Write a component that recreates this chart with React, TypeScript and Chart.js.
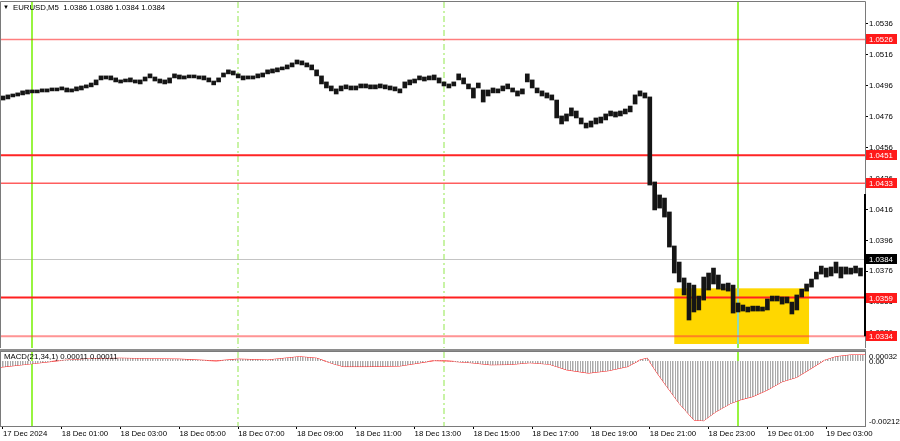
import React, { useEffect, useRef } from 'react';
import { Chart, registerables } from 'chart.js';

Chart.register(...registerables);

const FONT = "'Liberation Sans', Arial, sans-serif";
const FS = 7.8;

const SYMBOL_TITLE = 'EURUSD,M5  1.0386 1.0386 1.0384 1.0384';
const MACD_TITLE = 'MACD(21,34,1) 0.00011 0.00011';

// time: minutes after 17 Dec 2024 23:00 (one sample = 10 minutes = two M5 bars)
const SAMPLE_STEP = 10;
const X_MIN = -4.08;
const X_MAX = 1759.2;

const TIME_TICKS = [0, 120, 240, 360, 480, 600, 720, 840, 960, 1080, 1200, 1320, 1440, 1560, 1680];
const TIME_LABELS = [
  '17 Dec 2024', '18 Dec 01:00', '18 Dec 03:00', '18 Dec 05:00', '18 Dec 07:00',
  '18 Dec 09:00', '18 Dec 11:00', '18 Dec 13:00', '18 Dec 15:00', '18 Dec 17:00',
  '18 Dec 19:00', '18 Dec 21:00', '18 Dec 23:00', '19 Dec 01:00', '19 Dec 03:00',
];

const PRICE_MIN = 1.03264;
const PRICE_MAX = 1.05502;
const PRICE_TICKS = [1.0336, 1.0356, 1.0376, 1.0396, 1.0416, 1.0436, 1.0456, 1.0476, 1.0496, 1.0516, 1.0536];

const HIGH = [
  1.04894, 1.04901, 1.04907, 1.04914, 1.04927, 1.04933, 1.04933, 1.04933, 1.04940, 1.04940,
  1.04946, 1.04946, 1.04953, 1.04946, 1.04940, 1.04953, 1.04959, 1.04966, 1.04978, 1.04998,
  1.05024, 1.05024, 1.05024, 1.05011, 1.04998, 1.05004, 1.05011, 1.04998, 1.04998, 1.05017,
  1.05037, 1.05017, 1.05004, 1.04998, 1.05011, 1.05037, 1.05030, 1.05024, 1.05030, 1.05030,
  1.05024, 1.05024, 1.05011, 1.04991, 1.05011, 1.05043, 1.05063, 1.05056, 1.05037, 1.05024,
  1.05024, 1.05024, 1.05037, 1.05043, 1.05063, 1.05069, 1.05076, 1.05082, 1.05095, 1.05108,
  1.05127, 1.05121, 1.05108, 1.05095, 1.05063, 1.05024, 1.04985, 1.04959, 1.04940, 1.04959,
  1.04966, 1.04959, 1.04959, 1.04972, 1.04972, 1.04966, 1.04966, 1.04972, 1.04966, 1.04959,
  1.04953, 1.04940, 1.04985, 1.04998, 1.05004, 1.05024, 1.05017, 1.05024, 1.05030, 1.05011,
  1.04985, 1.04972, 1.04985, 1.05037, 1.05011, 1.04972, 1.04946, 1.04978, 1.04933, 1.04933,
  1.04946, 1.04940, 1.04959, 1.04972, 1.04946, 1.04927, 1.04940, 1.05037, 1.04998, 1.04946,
  1.04927, 1.04914, 1.04901, 1.04868, 1.04765, 1.04778, 1.04817, 1.04797, 1.04752, 1.04719,
  1.04732, 1.04752, 1.04758, 1.04778, 1.04797, 1.04791, 1.04797, 1.04810, 1.04829, 1.04901,
  1.04927, 1.04914, 1.04888, 1.04338, 1.04254, 1.04234, 1.04144, 1.03924, 1.03820, 1.03717,
  1.03684, 1.03671, 1.03600, 1.03723, 1.03749, 1.03781, 1.03736, 1.03678, 1.03684, 1.03671,
  1.03555, 1.03542, 1.03529, 1.03535, 1.03535, 1.03529, 1.03581, 1.03600, 1.03600, 1.03594,
  1.03594, 1.03561, 1.03607, 1.03645, 1.03678, 1.03710, 1.03755, 1.03794, 1.03781, 1.03788,
  1.03820, 1.03788, 1.03788, 1.03781, 1.03794, 1.03781,
];

const LOW = [
  1.04868, 1.04875, 1.04888, 1.04894, 1.04901, 1.04907, 1.04914, 1.04914, 1.04920, 1.04920,
  1.04927, 1.04927, 1.04933, 1.04920, 1.04920, 1.04927, 1.04933, 1.04946, 1.04953, 1.04966,
  1.04998, 1.05004, 1.04998, 1.04985, 1.04978, 1.04985, 1.04985, 1.04978, 1.04972, 1.04991,
  1.05011, 1.04991, 1.04978, 1.04972, 1.04978, 1.05011, 1.05004, 1.05004, 1.05011, 1.05011,
  1.05004, 1.04998, 1.04985, 1.04966, 1.04985, 1.05017, 1.05037, 1.05030, 1.05011, 1.04998,
  1.05004, 1.05004, 1.05011, 1.05017, 1.05037, 1.05043, 1.05050, 1.05063, 1.05069, 1.05082,
  1.05101, 1.05095, 1.05082, 1.05063, 1.05024, 1.04972, 1.04946, 1.04927, 1.04907, 1.04927,
  1.04940, 1.04933, 1.04933, 1.04946, 1.04946, 1.04940, 1.04940, 1.04946, 1.04940, 1.04933,
  1.04927, 1.04914, 1.04946, 1.04966, 1.04978, 1.04998, 1.04991, 1.04998, 1.04998, 1.04978,
  1.04959, 1.04946, 1.04959, 1.04998, 1.04972, 1.04940, 1.04881, 1.04946, 1.04855, 1.04894,
  1.04914, 1.04914, 1.04927, 1.04940, 1.04920, 1.04894, 1.04907, 1.04985, 1.04946, 1.04914,
  1.04894, 1.04881, 1.04868, 1.04752, 1.04713, 1.04732, 1.04765, 1.04752, 1.04713, 1.04687,
  1.04693, 1.04713, 1.04719, 1.04739, 1.04765, 1.04758, 1.04765, 1.04778, 1.04791, 1.04842,
  1.04894, 1.04881, 1.04318, 1.04157, 1.04169, 1.04111, 1.03917, 1.03749, 1.03691, 1.03607,
  1.03445, 1.03497, 1.03510, 1.03574, 1.03639, 1.03678, 1.03645, 1.03639, 1.03632, 1.03490,
  1.03497, 1.03503, 1.03497, 1.03503, 1.03503, 1.03503, 1.03510, 1.03568, 1.03568, 1.03548,
  1.03555, 1.03484, 1.03510, 1.03594, 1.03632, 1.03658, 1.03710, 1.03742, 1.03723, 1.03730,
  1.03749, 1.03717, 1.03742, 1.03742, 1.03749, 1.03730,
];

const LEVELS = [1.0526, 1.0451, 1.0433, 1.0359, 1.0334];
const CURRENT_PRICE = 1.0384;
const V_SOLID = [60, 1500];
const V_DASHED = [480, 900];
const BOX_TIME = [1370, 1645];
const BOX_PRICE = [1.0329, 1.0365];
const EDGE_MARK = [1.0334, 1.0426];

const MACD_TIMES = [
  -5, 55, 115, 180, 240, 300, 360, 435, 480, 540,
  605, 640, 675, 695, 745, 810, 845, 880, 905, 955,
  995, 1035, 1075, 1115, 1150, 1195, 1235, 1275, 1300, 1315,
  1335, 1355, 1380, 1410, 1430, 1455, 1485, 1505, 1530, 1560,
  1590, 1620, 1645, 1675, 1700, 1730, 1760,
];
const MACD_VALUES = [
  -0.00021, -0.0001, 0.00001, 0.00007, 0.00009, 0.00007, 0.00006, 0.0, 0.00006, 0.00003,
  0.00014, 0.00009, -0.0001, -0.00019, -0.00019, -0.00017, -0.00008, 0.00001, 0.0, -0.00006,
  -0.00013, -0.00012, -0.00006, -0.00011, -0.0003, -0.00041, -0.00033, -0.00019, 0.00003, 0.00009,
  -0.00041, -0.00087, -0.00143, -0.00199, -0.00201, -0.00171, -0.00143, -0.00131, -0.0012, -0.00098,
  -0.0007, -0.00055, -0.0003, 0.00001, 0.00014, 0.0002, 0.0002,
];
const MACD_MIN = -0.00219;
const MACD_MAX = 0.0003;
const MACD_AXIS_TEXT = ['0.00032', '0.00', '-0.00212'];

const LEVEL_STYLE: any[] = [
  { color: 'rgba(255,40,40,0.6)', width: 1.5 },
  { color: '#ff2525', width: 2 },
  { color: 'rgba(255,40,40,0.75)', width: 1.5 },
  { color: '#ff2020', width: 2 },
  { color: 'rgba(255,60,60,0.55)', width: 2.2 },
];

function font(size = FS) {
  return `${size}px ${FONT}`;
}

function drawVLines(ctx: any, chart: any, boxRect: any) {
  const { chartArea: a, scales } = chart;
  const xs = scales.x;
  ctx.lineWidth = 1.5;
  V_SOLID.forEach((t) => {
    const px = Math.round(xs.getPixelForValue(t));
    ctx.strokeStyle = '#76f000';
    ctx.setLineDash([]);
    ctx.beginPath();
    ctx.moveTo(px, a.top);
    ctx.lineTo(px, a.bottom);
    ctx.stroke();
    if (boxRect && px >= boxRect.x0 && px <= boxRect.x1) {
      ctx.strokeStyle = '#8fd3f5';
      ctx.beginPath();
      ctx.moveTo(px, boxRect.y0);
      ctx.lineTo(px, boxRect.y1);
      ctx.stroke();
    }
  });
  ctx.lineWidth = 1.2;
  ctx.strokeStyle = '#a4ec6a';
  ctx.setLineDash([6, 3, 2, 3]);
  V_DASHED.forEach((t) => {
    const px = Math.round(xs.getPixelForValue(t));
    ctx.beginPath();
    ctx.moveTo(px, a.top);
    ctx.lineTo(px, a.bottom);
    ctx.stroke();
  });
  ctx.setLineDash([]);
}

const mainOverlay = {
  id: 'mainOverlay',
  beforeDatasetsDraw(chart: any) {
    const { ctx, chartArea: a, scales } = chart;
    const xs = scales.x;
    const ys = scales.y;
    ctx.save();
    ctx.beginPath();
    ctx.rect(a.left, a.top, a.right - a.left, a.bottom - a.top);
    ctx.clip();
    const cy = Math.round(ys.getPixelForValue(CURRENT_PRICE)) + 0.5;
    ctx.strokeStyle = '#c4c4c4';
    ctx.lineWidth = 1;
    ctx.beginPath();
    ctx.moveTo(a.left, cy);
    ctx.lineTo(a.right, cy);
    ctx.stroke();
    const bx0 = xs.getPixelForValue(BOX_TIME[0]);
    const bx1 = xs.getPixelForValue(BOX_TIME[1]);
    const by0 = ys.getPixelForValue(BOX_PRICE[1]);
    const by1 = ys.getPixelForValue(BOX_PRICE[0]);
    ctx.fillStyle = '#ffd700';
    ctx.fillRect(bx0, by0, bx1 - bx0, by1 - by0);
    drawVLines(ctx, chart, { x0: bx0, x1: bx1, y0: by0, y1: by1 });
    LEVELS.forEach((lv, i) => {
      const py = ys.getPixelForValue(lv);
      ctx.strokeStyle = LEVEL_STYLE[i].color;
      ctx.lineWidth = LEVEL_STYLE[i].width;
      ctx.beginPath();
      ctx.moveTo(a.left, py);
      ctx.lineTo(a.right, py);
      ctx.stroke();
    });
    ctx.restore();
  },
  afterDraw(chart: any) {
    const { ctx, chartArea: a, scales } = chart;
    const ys = scales.y;
    ctx.save();
    ctx.strokeStyle = '#7a7a7a';
    ctx.lineWidth = 1;
    ctx.beginPath();
    ctx.moveTo(0.5, a.bottom);
    ctx.lineTo(0.5, a.top - 0.5);
    ctx.lineTo(a.right + 0.5, a.top - 0.5);
    ctx.lineTo(a.right + 0.5, a.bottom);
    ctx.stroke();
    ctx.strokeStyle = '#000';
    ctx.lineWidth = 2;
    ctx.beginPath();
    ctx.moveTo(a.right, ys.getPixelForValue(EDGE_MARK[1]));
    ctx.lineTo(a.right, ys.getPixelForValue(EDGE_MARK[0]));
    ctx.stroke();
    ctx.font = font();
    ctx.textBaseline = 'middle';
    ctx.textAlign = 'left';
    const boxL = a.right + 1;
    const boxW = 31;
    LEVELS.forEach((lv) => {
      const py = Math.round(ys.getPixelForValue(lv));
      ctx.fillStyle = '#ff1a1a';
      ctx.fillRect(boxL, py - 5, boxW, 10);
      ctx.fillStyle = '#fff';
      ctx.fillText(lv.toFixed(4), a.right + 4, py + 0.5);
    });
    const cpy = Math.round(ys.getPixelForValue(CURRENT_PRICE));
    ctx.fillStyle = '#000';
    ctx.fillRect(boxL, cpy - 5, boxW, 10);
    ctx.fillStyle = '#fff';
    ctx.fillText(CURRENT_PRICE.toFixed(4), a.right + 4, cpy + 0.5);
    ctx.fillStyle = '#000';
    ctx.font = font(6);
    ctx.fillText('▼', 3, 7);
    ctx.font = font();
    ctx.fillText(SYMBOL_TITLE, 13, 7.5);
    ctx.restore();
  },
};

const macdOverlay = {
  id: 'macdOverlay',
  beforeDraw(chart: any) {
    const { ctx, chartArea: a } = chart;
    ctx.save();
    ctx.fillStyle = '#8e8e8e';
    ctx.fillRect(0, 0, a.right + 1, 2.5);
    ctx.restore();
  },
  beforeDatasetsDraw(chart: any) {
    const { ctx, chartArea: a } = chart;
    ctx.save();
    ctx.beginPath();
    ctx.rect(a.left, a.top, a.right - a.left, a.bottom - a.top);
    ctx.clip();
    drawVLines(ctx, chart, null);
    ctx.restore();
  },
  afterDraw(chart: any) {
    const { ctx, chartArea: a, scales } = chart;
    const ys = scales.y;
    ctx.save();
    ctx.strokeStyle = '#7a7a7a';
    ctx.lineWidth = 1;
    ctx.strokeRect(0.5, a.top - 0.5, a.right, a.bottom - a.top + 1);
    ctx.fillStyle = '#000';
    ctx.font = font();
    ctx.textAlign = 'left';
    ctx.textBaseline = 'middle';
    ctx.fillText(MACD_TITLE, 4, 8);
    const lx = a.right + 4;
    ctx.textBaseline = 'top';
    ctx.fillText(MACD_AXIS_TEXT[0], lx, a.top + 1);
    ctx.textBaseline = 'middle';
    ctx.fillText(MACD_AXIS_TEXT[1], lx, ys.getPixelForValue(0) + 0.5);
    ctx.textBaseline = 'bottom';
    ctx.fillText(MACD_AXIS_TEXT[2], lx, a.bottom - 0.5);
    ctx.restore();
  },
};

export default function App() {
  const mainRef = useRef<HTMLCanvasElement>(null);
  const macdRef = useRef<HTMLCanvasElement>(null);

  useEffect(() => {
    document.body.style.margin = '0';
    const bars = HIGH.map((h, i) => ({ x: i * SAMPLE_STEP, y: [LOW[i], h] }));
    const main = new Chart(mainRef.current as HTMLCanvasElement, {
      type: 'bar',
      data: {
        datasets: [
          {
            data: bars as any,
            backgroundColor: '#151515',
            borderWidth: 0,
            barThickness: 4,
          } as any,
        ],
      },
      options: {
        animation: false,
        responsive: false,
        events: [],
        layout: { padding: { top: 2, bottom: 1, left: 1, right: 0 } },
        plugins: { legend: { display: false }, tooltip: { enabled: false } },
        scales: {
          x: { type: 'linear', min: X_MIN, max: X_MAX, display: false, offset: false },
          y: {
            type: 'linear',
            position: 'right',
            min: PRICE_MIN,
            max: PRICE_MAX,
            afterBuildTicks: (s: any) => {
              s.ticks = PRICE_TICKS.map((v) => ({ value: v }));
            },
            afterFit: (s: any) => {
              s.width = 35;
              s.paddingTop = 0;
              s.paddingBottom = 0;
            },
            ticks: {
              callback: (v: any) => Number(v).toFixed(4),
              font: { family: FONT, size: FS },
              color: '#000',
              padding: 1,
            },
            grid: { drawOnChartArea: false, tickLength: 3, color: '#000' },
            border: { display: false },
          },
        },
      } as any,
      plugins: [mainOverlay],
    });

    const pc = document.createElement('canvas');
    pc.width = 5;
    pc.height = 2;
    const pctx = pc.getContext('2d') as CanvasRenderingContext2D;
    pctx.fillStyle = '#fff';
    pctx.fillRect(0, 0, 5, 2);
    pctx.fillStyle = '#a9a9a9';
    pctx.fillRect(0, 0, 1, 2);
    pctx.fillRect(2, 0, 1.5, 2);
    const stripe = (macdRef.current as HTMLCanvasElement).getContext('2d')!.createPattern(pc, 'repeat');

    const macdPts = MACD_TIMES.map((t, i) => ({ x: t, y: MACD_VALUES[i] }));
    const macd = new Chart(macdRef.current as HTMLCanvasElement, {
      type: 'line',
      data: {
        datasets: [
          {
            data: macdPts,
            borderColor: 'rgba(0,0,0,0)',
            borderWidth: 0,
            backgroundColor: stripe as any,
            fill: 'origin',
            pointRadius: 0,
            tension: 0,
          },
          {
            data: macdPts,
            borderColor: '#ff2020',
            borderWidth: 1,
            fill: false,
            pointRadius: 0,
            tension: 0,
          },
        ],
      },
      options: {
        animation: false,
        responsive: false,
        events: [],
        layout: { padding: { top: 3, bottom: 0, left: 1, right: 35 } },
        plugins: { legend: { display: false }, tooltip: { enabled: false } },
        scales: {
          x: {
            type: 'linear',
            min: X_MIN,
            max: X_MAX,
            offset: false,
            afterBuildTicks: (s: any) => {
              s.ticks = TIME_TICKS.map((v) => ({ value: v }));
            },
            afterFit: (s: any) => {
              s.height = 15;
              s.paddingLeft = 0;
              s.paddingRight = 0;
            },
            ticks: {
              autoSkip: false,
              maxRotation: 0,
              minRotation: 0,
              align: 'start',
              padding: 0,
              color: '#000',
              font: { family: FONT, size: FS },
              callback: (_v: any, i: number) => TIME_LABELS[i],
            },
            grid: { drawOnChartArea: false, tickLength: 3, color: '#000' },
            border: { display: false },
          },
          y: { type: 'linear', display: false, min: MACD_MIN, max: MACD_MAX },
        },
      } as any,
      plugins: [macdOverlay],
    });

    return () => {
      main.destroy();
      macd.destroy();
    };
  }, []);

  return (
    <div style={{ position: 'absolute', left: 0, top: 0, width: 900, height: 441, background: '#fff', overflow: 'hidden' }}>
      <canvas ref={mainRef} width={900} height={349} style={{ position: 'absolute', left: 0, top: 0, display: 'block' }} />
      <canvas ref={macdRef} width={900} height={92} style={{ position: 'absolute', left: 0, top: 349, display: 'block' }} />
    </div>
  );
}
